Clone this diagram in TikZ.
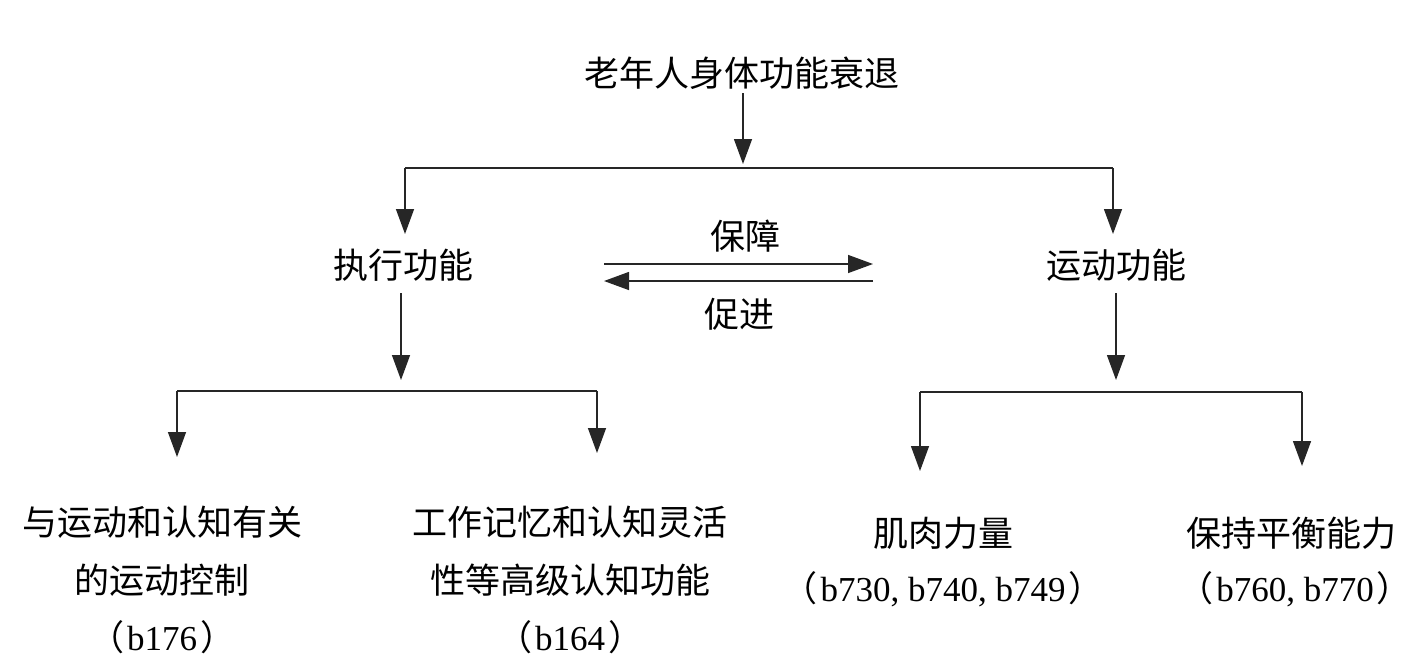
\documentclass[tikz,border=0pt]{standalone}
\usepackage{fontspec}
\setmainfont{Liberation Serif}
\newfontfamily\cjk{Noto Sans CJK SC}
\usetikzlibrary{arrows.meta}
\newcommand{\lpar}{{\cjk （}\hspace{3pt}}
\newcommand{\rpar}{\hspace{3pt}{\cjk ）}}
\begin{document}
\begin{tikzpicture}[x=1pt,y=-1pt,
  txt/.style={inner sep=0pt, anchor=center, font=\fontsize{35}{35}\selectfont\cjk},
  lat/.style={inner sep=0pt, anchor=center, font=\fontsize{35}{35}\selectfont},
  ln/.style={line width=1.4pt, black!85},
  arr/.style={ln, -{Triangle[width=18pt,length=25pt]}}]
\useasboundingbox (0,0) rectangle (1418,657);
% texts
\node[txt] (title) at (742,73) {老年人身体功能衰退};
\node[txt] (exe) at (403,265) {执行功能};
\node[txt] (mot) at (1116,265) {运动功能};
\node[txt] (bz) at (745,236) {保障};
\node[txt] (cj) at (739,314) {促进};
\node[txt] (a1) at (162,522) {与运动和认知有关};
\node[txt] (a2) at (162,580) {的运动控制};
\node[lat] (a3) at (162,637) {\lpar b176\rpar};
\node[txt] (b1) at (570,522) {工作记忆和认知灵活};
\node[txt] (b2) at (570,580) {性等高级认知功能};
\node[lat] (b3) at (570,637) {\lpar b164\rpar};
\node[txt] (c1) at (943,533) {肌肉力量};
\node[lat] (c2) at (943,589) {\lpar b730, b740, b749\rpar};
\node[txt] (d1) at (1291,533) {保持平衡能力};
\node[lat] (d2) at (1295,589) {\lpar b760, b770\rpar};
% coordinates
\coordinate (t0) at (743,93);
\coordinate (t1) at (743,164);
\coordinate (hL) at (405,168);
\coordinate (hR) at (1113,168);
\coordinate (eT) at (405,234);
\coordinate (mT) at (1113,234);
\coordinate (p1) at (604,264);
\coordinate (p2) at (873,264);
\coordinate (q1) at (873,281);
\coordinate (q2) at (604,281);
\coordinate (e0) at (401,293);
\coordinate (e1) at (401,380);
\coordinate (lL) at (177,391);
\coordinate (lR) at (597,391);
\coordinate (aT) at (177,457);
\coordinate (bT) at (597,453);
\coordinate (m0) at (1116,293);
\coordinate (m1) at (1116,380);
\coordinate (rL) at (920,392);
\coordinate (rR) at (1302,392);
\coordinate (cT) at (920,471);
\coordinate (dT) at (1302,466);
% connectors
\draw[arr] (t0) -- (t1);
\draw[ln] (hL) -- (hR);
\draw[arr] (hL) -- (eT);
\draw[arr] (hR) -- (mT);
\draw[arr] (p1) -- (p2);
\draw[arr] (q1) -- (q2);
\draw[arr] (e0) -- (e1);
\draw[ln] (lL) -- (lR);
\draw[arr] (lL) -- (aT);
\draw[arr] (lR) -- (bT);
\draw[arr] (m0) -- (m1);
\draw[ln] (rL) -- (rR);
\draw[arr] (rL) -- (cT);
\draw[arr] (rR) -- (dT);
\end{tikzpicture}
\end{document}
